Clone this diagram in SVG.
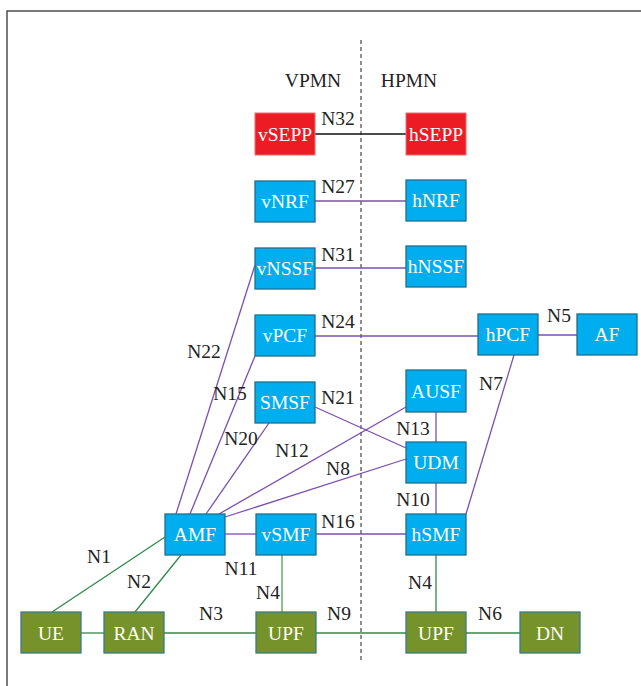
<svg xmlns="http://www.w3.org/2000/svg" width="641" height="686" viewBox="0 0 641 686">
<style>
text{font-family:'Liberation Serif','Times New Roman','DejaVu Serif',serif;font-size:19.5px}
.nt{fill:#fff;text-anchor:middle}
.lb{fill:#222;text-anchor:middle}
.b rect{fill:#00aeef;stroke:#1f6f8b;stroke-width:1.3}
.r rect{fill:#ed1c24;stroke:#f06a6e;stroke-width:1}
.g rect{fill:#76922a;stroke:#3d7a8a;stroke-width:1.3}
.p{stroke:#7a4fb0;stroke-width:1.3;fill:none}
.gr{stroke:#2f8a4a;stroke-width:1.3;fill:none}
.lg{stroke:#8cbf8c;stroke-width:2;fill:none}
.k{stroke:#111;stroke-width:1.3;fill:none}
</style>
<rect x="0" y="0" width="641" height="686" fill="#fff"/>
<rect x="7" y="11" width="700" height="700" fill="none" stroke="#333" stroke-width="1.3"/>
<line x1="361" y1="40" x2="361" y2="662" stroke="#555" stroke-width="1.3" stroke-dasharray="4,3"/>
<g font-family="Liberation Serif, serif">
<text class="lb" x="313" y="87">VPMN</text>
<text class="lb" x="409" y="87">HPMN</text>
</g>
<g id="connectors">
<line class="k" x1="315" y1="134" x2="406" y2="134"/>
<line class="p" x1="315" y1="201" x2="406" y2="201"/>
<line class="p" x1="315" y1="268" x2="406" y2="268"/>
<line class="p" x1="315" y1="336" x2="478" y2="336"/>
<line class="p" x1="538" y1="335" x2="577" y2="335"/>
<line class="p" x1="514" y1="355" x2="466" y2="514"/>
<line class="p" x1="436" y1="412" x2="436" y2="442"/>
<line class="p" x1="436" y1="483" x2="436" y2="514"/>
<line class="p" x1="315" y1="407" x2="406" y2="448"/>
<line class="p" x1="176" y1="514" x2="255" y2="265"/>
<line class="p" x1="190" y1="514" x2="255" y2="356"/>
<line class="p" x1="206" y1="514" x2="269" y2="423"/>
<line class="p" x1="219" y1="514" x2="406" y2="407"/>
<line class="p" x1="225" y1="517" x2="406" y2="459"/>
<line class="p" x1="225" y1="534" x2="256" y2="534"/>
<line class="p" x1="316" y1="534" x2="406" y2="534"/>
<line class="gr" x1="165" y1="537" x2="52" y2="612"/>
<line class="gr" x1="181" y1="555" x2="135" y2="612"/>
<line class="gr" x1="81" y1="633" x2="104" y2="633"/>
<line class="gr" x1="164" y1="633" x2="256" y2="633"/>
<line class="gr" x1="316" y1="633" x2="406" y2="633"/>
<line class="gr" x1="466" y1="633" x2="520" y2="633"/>
<line class="lg" x1="282" y1="555" x2="282" y2="612"/>
<line class="gr" x1="436" y1="555" x2="436" y2="612"/>
</g>
<g id="labels">
<text class="lb" x="338" y="125">N32</text>
<text class="lb" x="338" y="193">N27</text>
<text class="lb" x="338" y="261">N31</text>
<text class="lb" x="338" y="328">N24</text>
<text class="lb" x="559" y="322">N5</text>
<text class="lb" x="204" y="358">N22</text>
<text class="lb" x="491" y="390">N7</text>
<text class="lb" x="230" y="400">N15</text>
<text class="lb" x="338" y="404">N21</text>
<text class="lb" x="413" y="435">N13</text>
<text class="lb" x="241" y="445">N20</text>
<text class="lb" x="292" y="457">N12</text>
<text class="lb" x="338" y="475">N8</text>
<text class="lb" x="413" y="506">N10</text>
<text class="lb" x="338" y="528">N16</text>
<text class="lb" x="99" y="563">N1</text>
<text class="lb" x="241" y="575">N11</text>
<text class="lb" x="139" y="588">N2</text>
<text class="lb" x="268" y="599">N4</text>
<text class="lb" x="420" y="589">N4</text>
<text class="lb" x="211" y="620">N3</text>
<text class="lb" x="339" y="620">N9</text>
<text class="lb" x="490" y="620">N6</text>
</g>
<g id="vSEPP" class="r"><rect x="255" y="113" width="60" height="42"/><text class="nt" x="285" y="141">vSEPP</text></g>
<g id="hSEPP" class="r"><rect x="406" y="113" width="60" height="42"/><text class="nt" x="436" y="141">hSEPP</text></g>
<g id="vNRF" class="b"><rect x="255" y="181" width="60" height="41"/><text class="nt" x="285" y="208">vNRF</text></g>
<g id="hNRF" class="b"><rect x="406" y="180" width="60" height="41"/><text class="nt" x="436" y="207">hNRF</text></g>
<g id="vNSSF" class="b"><rect x="255" y="248" width="60" height="41"/><text class="nt" x="285" y="275">vNSSF</text></g>
<g id="hNSSF" class="b"><rect x="406" y="246" width="60" height="41"/><text class="nt" x="436" y="273">hNSSF</text></g>
<g id="vPCF" class="b"><rect x="255" y="315" width="60" height="41"/><text class="nt" x="285" y="342">vPCF</text></g>
<g id="hPCF" class="b"><rect x="478" y="314" width="60" height="41"/><text class="nt" x="508" y="341">hPCF</text></g>
<g id="AF" class="b"><rect x="577" y="314" width="60" height="41"/><text class="nt" x="607" y="341">AF</text></g>
<g id="SMSF" class="b"><rect x="255" y="382" width="60" height="41"/><text class="nt" x="285" y="409">SMSF</text></g>
<g id="AUSF" class="b"><rect x="406" y="370" width="60" height="42"/><text class="nt" x="436" y="398">AUSF</text></g>
<g id="UDM" class="b"><rect x="406" y="442" width="60" height="41"/><text class="nt" x="436" y="469">UDM</text></g>
<g id="AMF" class="b"><rect x="165" y="514" width="60" height="41"/><text class="nt" x="195" y="541">AMF</text></g>
<g id="vSMF" class="b"><rect x="256" y="514" width="60" height="41"/><text class="nt" x="286" y="541">vSMF</text></g>
<g id="hSMF" class="b"><rect x="406" y="514" width="60" height="41"/><text class="nt" x="436" y="541">hSMF</text></g>
<g id="UE" class="g"><rect x="21" y="612" width="60" height="41"/><text class="nt" x="51" y="640">UE</text></g>
<g id="RAN" class="g"><rect x="104" y="612" width="60" height="41"/><text class="nt" x="134" y="640">RAN</text></g>
<g id="vUPF" class="g"><rect x="256" y="612" width="60" height="41"/><text class="nt" x="286" y="640">UPF</text></g>
<g id="hUPF" class="g"><rect x="406" y="612" width="60" height="41"/><text class="nt" x="436" y="640">UPF</text></g>
<g id="DN" class="g"><rect x="520" y="612" width="60" height="41"/><text class="nt" x="550" y="640">DN</text></g>
</svg>
